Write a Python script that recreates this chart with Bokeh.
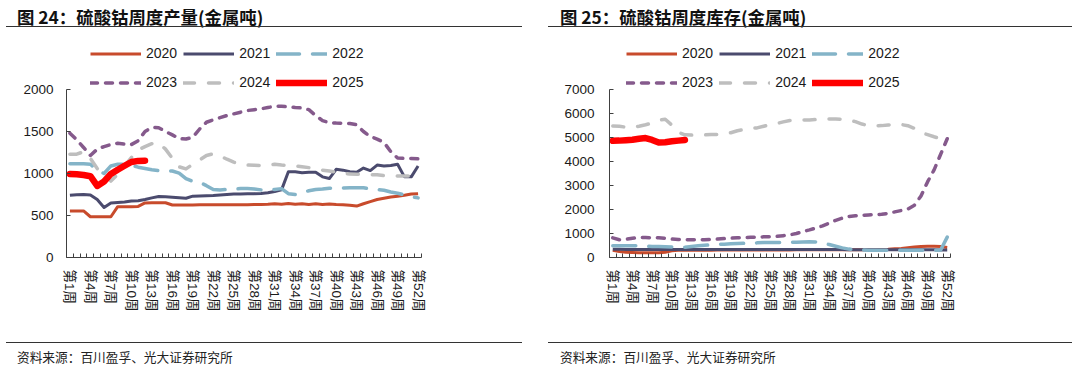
import math
from bokeh.plotting import figure
from bokeh.models import (FixedTicker, Legend, LegendItem, Range1d, Div)
from bokeh.layouts import row, column
from bokeh.embed import file_html
from bokeh.resources import INLINE

# ---------------- data ----------------
weeks = list(range(1, 53))
label_weeks = list(range(1, 53, 3))
week_labels = {w: "第%d周" % w for w in label_weeks}
years = ["2020", "2021", "2022", "2023", "2024", "2025"]

# 硫酸钴周度产量 (金属吨)
prod_2020 = [555, 555, 555, 485, 485, 485, 485, 605, 605, 605, 608, 650, 652, 652, 652, 625, 625, 625, 625, 628,
             628, 628, 628, 628, 628, 628, 628, 630, 632, 635, 640, 635, 642, 635, 640, 632, 640, 632, 638, 630,
             628, 622, 612, 640, 665, 690, 705, 720, 730, 740, 755, 760]
prod_2021 = [740, 748, 750, 745, 690, 595, 650, 655, 660, 672, 675, 690, 710, 725, 722, 718, 712, 705, 730, 732,
             735, 738, 745, 750, 755, 755, 758, 760, 762, 770, 785, 805, 1020, 1020, 1010, 1015, 1015, 960, 940, 1050,
             1040, 1020, 1015, 1065, 1035, 1100, 1090, 1095, 1110, 960, 960, 1090]
prod_2022 = [1115, 1115, 1115, 1110, 1040, 1000, 1090, 1110, 1110, 1100, 1075, 1060, 1045, 1035, 1035, 1030, 1005, 940, 905, 895,
             855, 810, 805, 810, 815, 820, 820, 815, 805, 805, 810, 820, 760, 750, 770, 795, 810, 815, 825, 828,
             828, 830, 830, 830, 815, 810, 800, 780, 765, 745, 725, 710]
prod_2023 = [1480, 1400, 1310, 1215, 1290, 1320, 1345, 1360, 1350, 1345, 1390, 1500, 1550, 1545, 1500, 1460, 1415, 1410, 1430, 1530,
             1610, 1640, 1665, 1690, 1710, 1730, 1750, 1760, 1770, 1785, 1800, 1800, 1795, 1785, 1780, 1760, 1690, 1630, 1605, 1600,
             1598, 1595, 1580, 1500, 1440, 1410, 1370, 1260, 1185, 1180, 1180, 1175]
prod_2024 = [1230, 1230, 1260, 1180, 1060, 990, 910, 990, 1090, 1190, 1280, 1320, 1355, 1365, 1290, 1180, 1080, 1055, 1110, 1160,
             1215, 1235, 1210, 1170, 1135, 1110, 1100, 1098, 1095, 1098, 1110, 1100, 1095, 1090, 1080, 1070, 1060, 1040, 1030, 1015,
             1000, 995, 990, 990, 985, 985, 975, 970, 970, 970, 972, 975]
prod_2025 = [995, 990, 982, 968, 852, 905, 995, 1045, 1092, 1137, 1150, 1153]

# 硫酸钴周度库存 (金属吨)
inv_2020 = [300, 250, 220, 210, 200, 200, 200, 200, 220, 280, 300, 300, 300, 300, 305, 305, 310, 310, 310, 310,
            310, 310, 310, 315, 315, 315, 315, 315, 320, 320, 320, 320, 320, 320, 320, 320, 320, 320, 320, 320,
            320, 330, 340, 360, 380, 410, 440, 460, 470, 470, 460, 420]
inv_2021 = [340, 340, 335, 335, 330, 330, 330, 330, 330, 330, 330, 330, 330, 330, 330, 330, 330, 330, 330, 330,
            330, 330, 330, 330, 330, 330, 330, 330, 330, 330, 330, 330, 330, 330, 330, 330, 320, 320, 320, 320,
            320, 320, 320, 320, 320, 320, 320, 320, 320, 320, 310, 310]
inv_2022 = [490, 490, 490, 490, 490, 470, 460, 460, 450, 440, 430, 430, 460, 490, 510, 530, 545, 556, 570, 580,
            590, 600, 610, 620, 625, 625, 630, 630, 640, 650, 660, 650, 600, 540, 470, 400, 350, 320, 310, 305,
            305, 305, 305, 305, 305, 300, 300, 300, 300, 305, 310, 850]
inv_2023 = [820, 740, 760, 800, 830, 830, 825, 820, 800, 770, 750, 740, 735, 735, 740, 755, 770, 790, 805, 820,
            830, 840, 850, 860, 865, 880, 910, 945, 1000, 1080, 1150, 1230, 1320, 1430, 1550, 1640, 1710, 1740, 1760, 1775,
            1785, 1800, 1840, 1900, 1960, 2020, 2180, 2560, 3150, 3650, 4300, 4950]
inv_2024 = [5480, 5470, 5430, 5420, 5470, 5530, 5600, 5720, 5760, 5520, 5220, 5110, 5100, 5110, 5110, 5120, 5125, 5130, 5200, 5280,
            5330, 5390, 5400, 5470, 5540, 5580, 5650, 5710, 5720, 5725, 5730, 5750, 5760, 5770, 5770, 5760, 5720, 5660, 5560, 5490,
            5490, 5495, 5520, 5550, 5540, 5490, 5380, 5200, 5120, 5030, 4950, 4870]
inv_2025 = [4860, 4870, 4890, 4910, 4950, 4975, 4900, 4790, 4800, 4840, 4870, 4900]

prod = dict(zip(years, [prod_2020, prod_2021, prod_2022, prod_2023, prod_2024, prod_2025]))
inv = dict(zip(years, [inv_2020, inv_2021, inv_2022, inv_2023, inv_2024, inv_2025]))

# ---------------- styles ----------------
styles = {
    "2020": dict(line_color="#C84B2C", line_width=3, line_join="round"),
    "2021": dict(line_color="#4B4B6E", line_width=3, line_join="round"),
    "2022": dict(line_color="#84B4C8", line_width=3.5, line_dash="23 13", line_cap="round", line_join="round"),
    "2023": dict(line_color="#855A8C", line_width=3.5, line_dash="7 8", line_cap="round", line_join="round"),
    "2024": dict(line_color="#BEBEBE", line_width=3.5, line_dash="11 14", line_cap="round", line_join="round"),
    "2025": dict(line_color="#FF0000", line_width=6.5, line_cap="round", line_join="round"),
}

NUM_FONT = "Liberation Sans, Noto Sans CJK SC"
AXIS_COLOR = "#404040"
TEXT_COLOR = "#1a1a1a"

HEADER_H = 27
FIG_H = 313
FOOTER_H = 28
FRAME_TOP = 9          # frame top inside the figure (legend lives inside the frame)
PLOT_H = 168           # pixel height of the 0..ymax part of the y axis
FRAME_H = 221          # frame height (PLOT_H + legend area)


def header(title, width, rule_left, rule_width):
    html = ('<div style="position:relative;width:%dpx;height:%dpx;">'
            '<div style="position:absolute;left:17px;top:5px;font-family:\'Noto Sans CJK SC\';'
            'font-weight:bold;font-size:17.4px;line-height:24px;color:#111111;white-space:nowrap;">%s</div>'
            '<div style="position:absolute;left:%dpx;top:26px;width:%dpx;height:1px;background:#333333;"></div>'
            '</div>') % (width, HEADER_H, title, rule_left, rule_width)
    return Div(text=html, width=width, height=HEADER_H, margin=0)


def footer(source, width, rule_left, rule_width):
    html = ('<div style="position:relative;width:%dpx;height:%dpx;">'
            '<div style="position:absolute;left:%dpx;top:2px;width:%dpx;height:1px;background:#333333;"></div>'
            '<div style="position:absolute;left:17px;top:7px;font-family:\'Noto Sans CJK SC\';'
            'font-size:12.7px;line-height:19px;color:#222222;white-space:nowrap;">%s</div>'
            '</div>') % (width, FOOTER_H, rule_left, rule_width, source)
    return Div(text=html, width=width, height=FOOTER_H, margin=0)


def make_plot(data, ymax, ystep, frame_w, border_left, fig_w, legend_x, y_standoff):
    y_end = ymax * FRAME_H / PLOT_H
    p = figure(frame_width=frame_w, frame_height=FRAME_H,
               min_border_left=border_left, min_border_right=fig_w - border_left - frame_w,
               min_border_top=FRAME_TOP, min_border_bottom=FIG_H - FRAME_TOP - FRAME_H,
               x_range=Range1d(0.5, 52.5), y_range=Range1d(0, y_end),
               output_backend="svg", toolbar_location=None)
    p.xgrid.visible = False
    p.ygrid.visible = False
    p.outline_line_color = None
    p.background_fill_color = "white"
    p.border_fill_color = "white"

    xa = p.xaxis[0]
    xa.ticker = FixedTicker(ticks=label_weeks, minor_ticks=[w + 0.5 for w in range(0, 53)])
    xa.major_label_overrides = week_labels
    xa.major_label_orientation = "vertical"
    xa.major_tick_in = 0
    xa.major_tick_out = 0
    xa.minor_tick_in = 4
    xa.minor_tick_out = 0
    xa.minor_tick_line_color = AXIS_COLOR
    xa.axis_line_color = AXIS_COLOR
    xa.major_label_standoff = 12
    xa.major_label_text_font = NUM_FONT
    xa.major_label_text_font_size = "13.5px"
    xa.major_label_text_color = TEXT_COLOR

    ya = p.yaxis[0]
    ya.ticker = FixedTicker(ticks=list(range(0, ymax + 1, ystep)))
    ya.bounds = (0, ymax)
    ya.major_tick_in = 4
    ya.major_tick_out = 0
    ya.major_tick_line_color = AXIS_COLOR
    ya.minor_tick_in = 0
    ya.minor_tick_out = 0
    ya.axis_line_color = AXIS_COLOR
    ya.major_label_standoff = y_standoff
    ya.major_label_text_font = NUM_FONT
    ya.major_label_text_font_size = "13.5px"
    ya.major_label_text_color = TEXT_COLOR

    items = []
    for y in years:
        vals = data[y]
        r = p.line(weeks[:len(vals)], vals, **styles[y])
        items.append(LegendItem(label=y, renderers=[r]))

    legend = Legend(items=items, orientation="horizontal", ncols=3,
                    location=(legend_x, 163.5), glyph_width=51, glyph_height=23,
                    label_height=23, label_standoff=5, spacing=6, padding=0, margin=0,
                    border_line_alpha=0, background_fill_alpha=0,
                    label_text_font=NUM_FONT, label_text_font_size="14px",
                    label_text_color=TEXT_COLOR)
    p.add_layout(legend)
    return p


SOURCE = "资料来源：百川盈孚、光大证券研究所"

left = column(
    header("图 24：硫酸钴周度产量(金属吨)", 543, 6, 516),
    make_plot(prod, 2000, 500, 355, 66, 543, 24, 13),
    footer(SOURCE, 543, 6, 516),
    spacing=0)
right = column(
    header("图 25：硫酸钴周度库存(金属吨)", 543, 5, 524),
    make_plot(inv, 7000, 1000, 341, 66, 543, 17, 15),
    footer(SOURCE, 543, 5, 524),
    spacing=0)

layout = row(left, right, spacing=0)
open("out.html", "w").write(file_html(layout, INLINE))
